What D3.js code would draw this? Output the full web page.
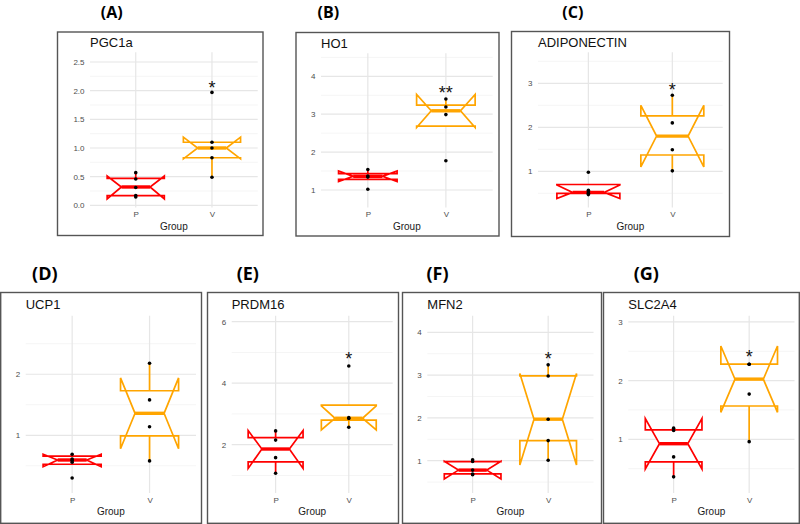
<!DOCTYPE html>
<html><head><meta charset="utf-8">
<script src="https://cdn.jsdelivr.net/npm/d3@7"></script>
<style>body{margin:0;background:#fff}svg{display:block}</style>
</head><body>
<svg id="c" width="800" height="524"></svg>
<script>
// ---------- data ----------
const panelLabels = ["(A)","(B)","(C)","(D)","(E)","(F)","(G)"];
const genes = ["PGC1a","HO1","ADIPONECTIN","UCP1","PRDM16","MFN2","SLC2A4"];
const groups = ["P","V"];
const stars = ["*","**","*","","*","*","*"];
const starValues = [2.12, 3.66, 2.94, null, 4.92, 3.47, 2.47];
const yMajor = [[0,0.5,1,1.5,2,2.5],[1,2,3,4],[1,2,3],[1,2],[2,4,6],[1,2,3,4],[1,2,3]];
const yMinor = [[0.25,0.75,1.25,1.75,2.25],[1.5,2.5,3.5,4.5],[0.5,1.5,2.5,3.5],[0.5,1.5,2.5],[1,3,5],[0.5,1.5,2.5,3.5],[0.5,1.5,2.5]];
const yDomains = [[-0.038,2.669],[0.538,4.607],[0.177,3.705],[0.054,2.96],[0.43,6.195],[0.245,4.388],[0.085,3.106]];
// box stats: [whiskerLow, q1, median, q3, whiskerHigh, notchLow, notchHigh]
const boxP = [
  [0.145,0.17,0.32,0.47,0.57,0.11,0.51],
  [1.28,1.28,1.36,1.43,1.54,1.22,1.50],
  [0.47,0.50,0.52,0.70,0.70,0.38,0.69],
  [0.525,0.525,0.595,0.66,0.69,0.485,0.69],
  [1.07,1.44,1.86,2.23,2.45,1.23,2.46],
  [0.67,0.69,0.78,0.98,1.02,0.575,0.985],
  [0.36,0.615,0.925,1.16,1.19,0.495,1.355]
];
const boxV = [
  [0.49,0.83,1.00,1.10,1.10,0.81,1.19],
  [2.685,2.685,3.09,3.24,3.40,2.65,3.52],
  [1.01,1.37,1.80,2.26,2.73,1.10,2.50],
  [0.58,0.99,1.36,1.73,2.18,0.78,1.94],
  [2.57,2.80,2.86,3.29,3.29,2.48,3.26],
  [1.01,1.47,1.97,2.98,3.24,0.90,3.04],
  [0.96,1.5675,2.025,2.28,2.28,1.46,2.59]
];
const pointsP = [
  [0.145,0.17,0.31,0.46,0.57],
  [1.02,1.34,1.37,1.54],
  [0.47,0.50,0.53,0.57,0.98],
  [0.30,0.56,0.59,0.61,0.69],
  [1.07,1.58,2.15,2.45],
  [0.67,0.69,0.78,0.98,1.02],
  [0.36,0.70,1.15,1.19]
];
const pointsV = [
  [0.49,0.83,1.00,1.10,1.97],
  [1.77,2.99,3.19,3.40],
  [1.01,1.49,2.10,2.73],
  [0.58,1.14,1.58,2.18],
  [2.57,2.85,2.88,4.56],
  [1.01,1.47,1.97,2.98,3.24],
  [0.96,1.77,2.28,2.28]
];
const groupColors = ["#FF0000","#FFA500"];

// ---------- layout ----------
const frames = [
  [57.5,32,263,235.5],[296,32.5,499,236],[511.5,31.5,729.5,236.5],
  [0.7,292.5,201.5,523.3],[207.5,292.5,398.5,523.3],[402.5,292.5,601.5,523.3],[603.5,292.5,799.3,523.3]
];
const plots = [
  [90,52.3,257.7,207.5],[321,53.3,492.7,207.5],[538,52.3,722.7,207.5],
  [25.7,315.7,196,493],[231.7,315.7,392.7,493],[427.3,315.7,593.5,493],[628.3,315.7,794.5,493]
];
const labelPos = [[111.7,12,16],[328.3,12,16],[572.8,12,16],[44.8,272.5,18],[247.8,272.5,18],[437.5,272.5,18],[646.3,272.5,18]];

const svg = d3.select("#c");
const FONT = "'Liberation Sans', Arial, sans-serif";

genes.forEach((gene, i) => {
  const [fx0, fy0, fx1, fy1] = frames[i];
  const [px0, py0, px1, py1] = plots[i];
  const g = svg.append("g");
  const x = d3.scalePoint().domain(groups).range([px0, px1]).padding(0.6);
  const y = d3.scaleLinear().domain(yDomains[i]).range([py1, py0]);
  const step = x.step();
  const bw = 0.75 * step;

  // frame
  g.append("rect").attr("x", fx0).attr("y", fy0).attr("width", fx1 - fx0).attr("height", fy1 - fy0)
    .attr("fill", "#fff").attr("stroke", "#555").attr("stroke-width", 1.4);

  // minor grid
  g.selectAll(".mn").data(yMinor[i]).enter().append("line")
    .attr("x1", px0).attr("x2", px1).attr("y1", d => y(d)).attr("y2", d => y(d))
    .attr("stroke", "#f2f2f2").attr("stroke-width", 0.8);
  // major grid
  g.selectAll(".mj").data(yMajor[i]).enter().append("line")
    .attr("x1", px0).attr("x2", px1).attr("y1", d => y(d)).attr("y2", d => y(d))
    .attr("stroke", "#e6e6e6").attr("stroke-width", 1.2);
  g.selectAll(".vg").data(groups).enter().append("line")
    .attr("x1", d => x(d)).attr("x2", d => x(d)).attr("y1", py0).attr("y2", py1)
    .attr("stroke", "#e6e6e6").attr("stroke-width", 1.2);

  // y axis labels
  const fmt = i === 0 ? d3.format(".1f") : d3.format("d");
  const yAxis = d3.axisLeft(y).tickValues(yMajor[i]).tickFormat(fmt).tickSize(0).tickPadding(5.5);
  const ya = g.append("g").attr("transform", `translate(${px0},0)`).call(yAxis);
  ya.select(".domain").remove();
  ya.selectAll("text").attr("fill", "#4d4d4d").attr("font-size", 8).attr("font-family", FONT);

  // x axis labels
  const xAxis = d3.axisBottom(x).tickSize(0).tickPadding(4);
  const xa = g.append("g").attr("transform", `translate(0,${py1})`).call(xAxis);
  xa.select(".domain").remove();
  xa.selectAll("text").attr("fill", "#4d4d4d").attr("font-size", 8).attr("font-family", FONT);

  // boxes
  [boxP[i], boxV[i]].forEach((b, gi) => {
    const [wl, q1, med, q3, wh, nl, nh] = b;
    const cx = x(groups[gi]);
    const xmin = cx - bw / 2, xmax = cx + bw / 2, ind = 0.25 * bw;
    const col = groupColors[gi];
    // whiskers
    g.append("line").attr("x1", cx).attr("x2", cx).attr("y1", y(q3)).attr("y2", y(wh))
      .attr("stroke", col).attr("stroke-width", 1.7);
    g.append("line").attr("x1", cx).attr("x2", cx).attr("y1", y(q1)).attr("y2", y(wl))
      .attr("stroke", col).attr("stroke-width", 1.7);
    const xs = [xmin, xmin, xmin + ind, xmin, xmin, xmax, xmax, xmax - ind, xmax, xmax];
    const ys = [q3, nh, med, nl, q1, q1, nl, med, nh, q3];
    const pts = xs.map((xx, k) => [xx, y(ys[k])]);
    g.append("path").attr("d", d3.line()(pts) + "Z")
      .attr("fill", "#fff").attr("stroke", col).attr("stroke-width", 1.7)
      .attr("stroke-linejoin", "miter");
    g.append("line").attr("x1", xmin + ind).attr("x2", xmax - ind).attr("y1", y(med)).attr("y2", y(med))
      .attr("stroke", col).attr("stroke-width", 3.4);
  });

  // points
  [pointsP[i], pointsV[i]].forEach((arr, gi) => {
    g.selectAll(null).data(arr).enter().append("circle")
      .attr("cx", x(groups[gi])).attr("cy", d => y(d)).attr("r", 1.8).attr("fill", "#000");
  });

  // stars
  if (stars[i]) {
    g.append("text").attr("x", x("V")).attr("y", y(starValues[i]) + 10)
      .attr("text-anchor", "middle").attr("font-size", 18).attr("font-family", FONT)
      .attr("fill", "#111").text(stars[i]);
  }

  // title
  g.append("text").attr("x", px0).attr("y", i < 3 ? (i === 1 ? 48 : 46.7) : 309)
    .attr("font-size", 13).attr("font-family", FONT).attr("fill", "#111").text(gene);

  // x axis title
  g.append("text").attr("x", (px0 + px1) / 2).attr("y", py1 + 22)
    .attr("text-anchor", "middle").attr("font-size", 10).attr("font-family", FONT)
    .attr("fill", "#1a1a1a").text("Group");

  // panel label
  const [lx, ly, ls] = labelPos[i];
  svg.append("text").attr("x", lx).attr("y", ly).attr("dominant-baseline", "central")
    .attr("text-anchor", "middle").attr("font-size", ls).attr("font-weight", "bold")
    .attr("font-family", "'Open Sans', 'Noto Sans', sans-serif").attr("fill", "#000").text(panelLabels[i]);
});
</script>
</body></html>
